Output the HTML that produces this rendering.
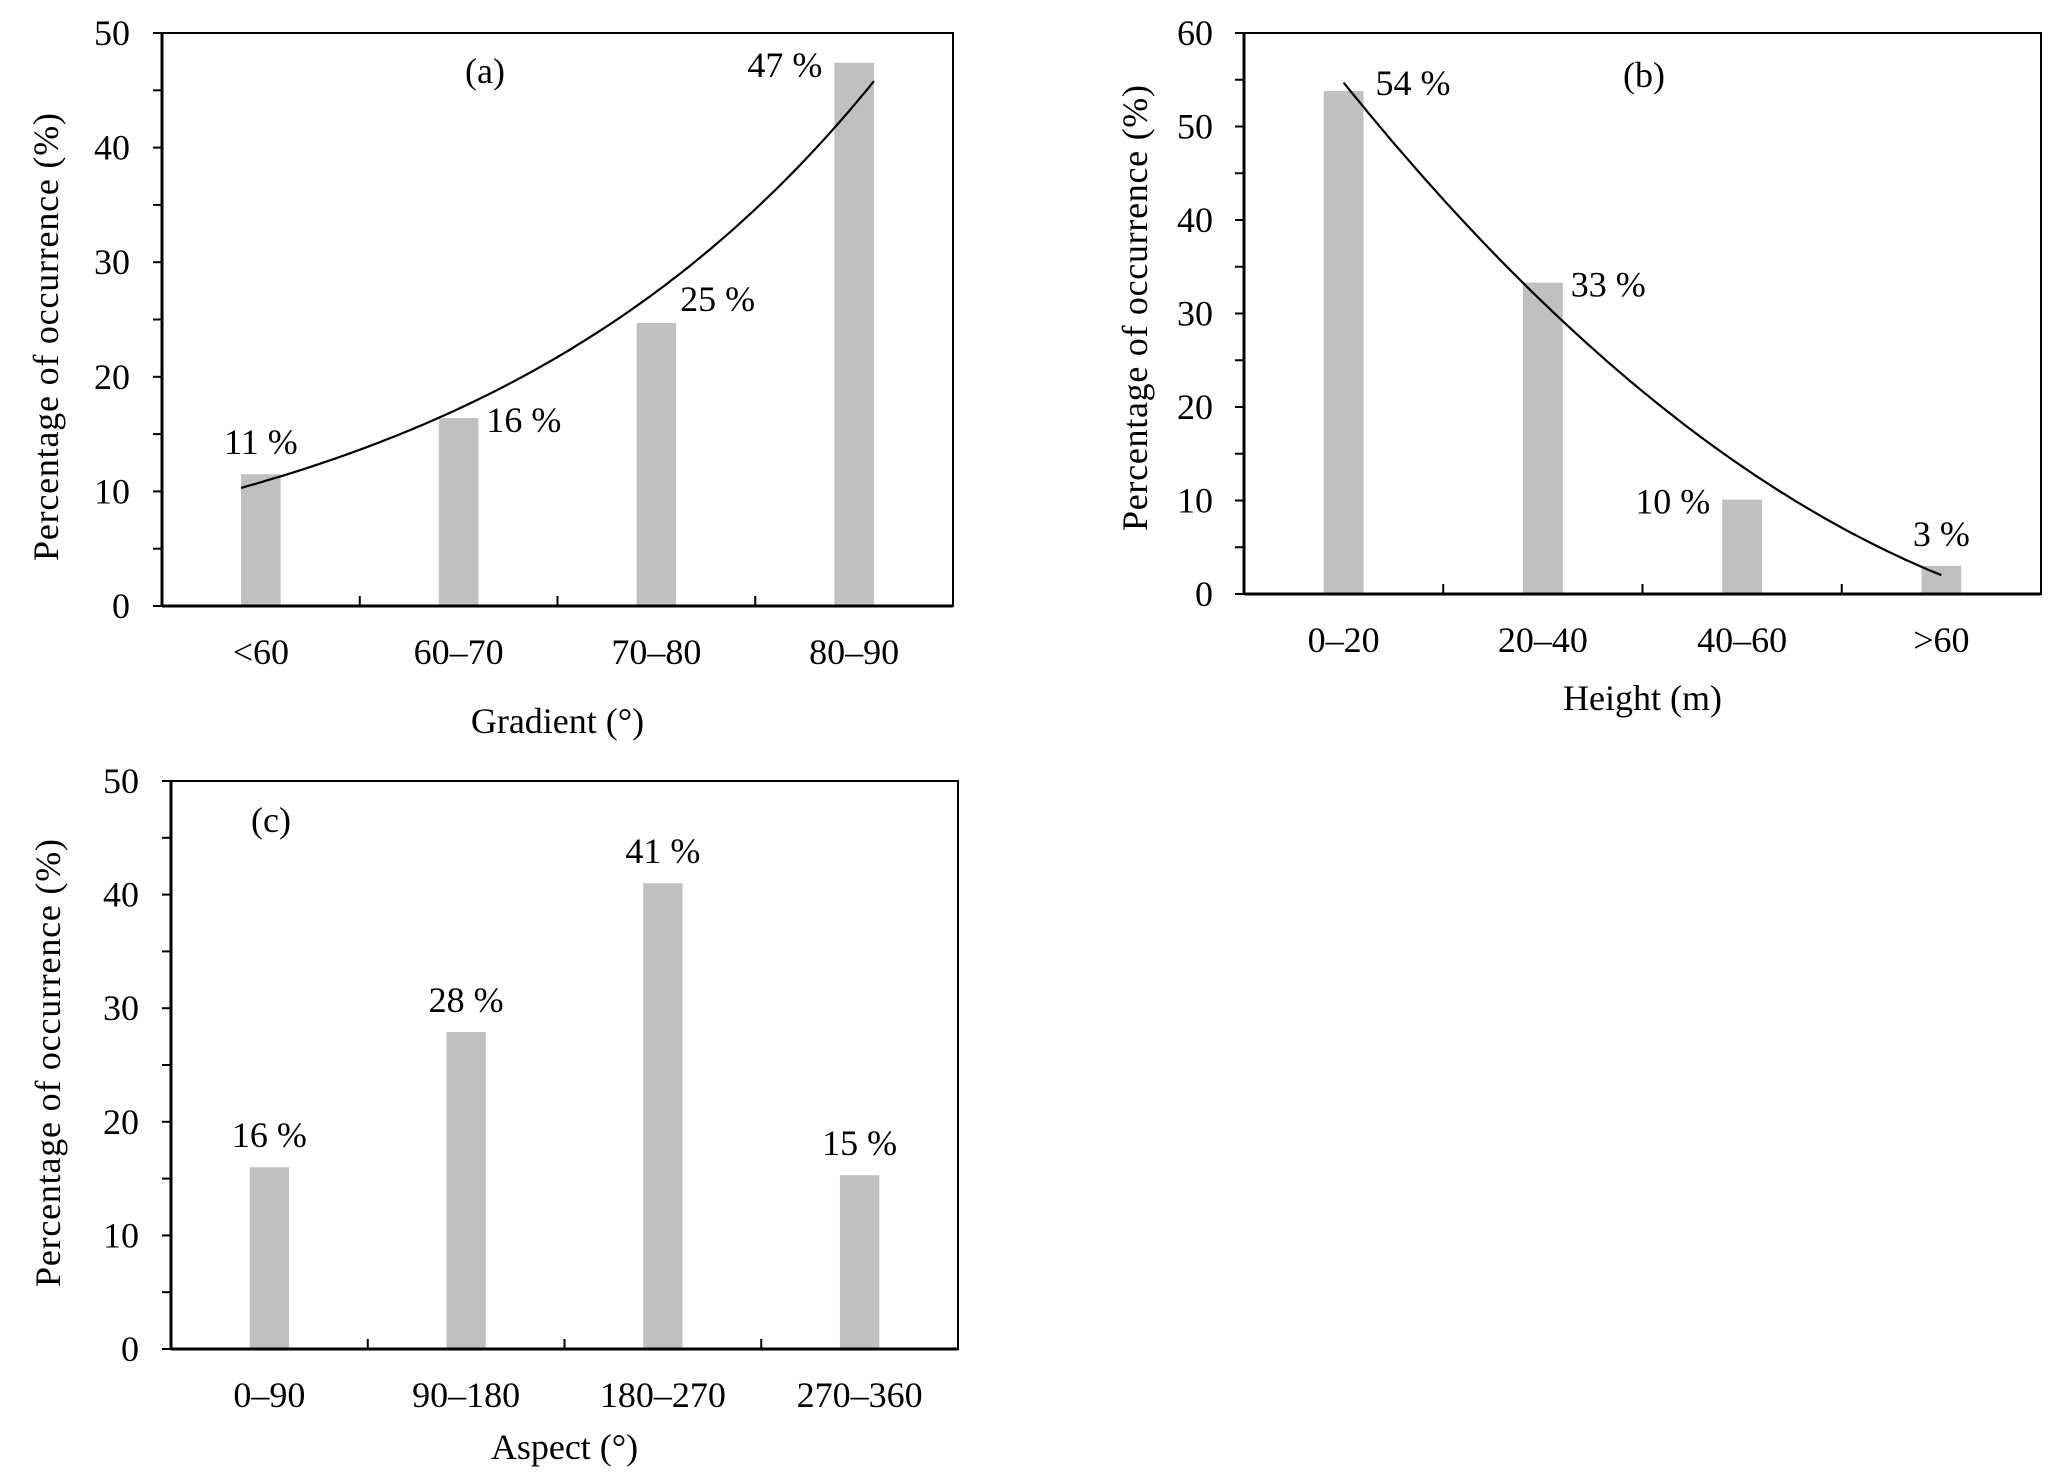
<!DOCTYPE html>
<html><head><meta charset="utf-8"><style>
html,body{margin:0;padding:0;background:#fff;}
svg{display:block;}
svg text{font-family:"Liberation Serif","Times New Roman",serif;}
</style></head><body>
<svg id="fig" width="2067" height="1476" viewBox="0 0 2067 1476" xmlns="http://www.w3.org/2000/svg" font-family="Liberation Serif, Times New Roman, serif"></svg>
<script>
const catsA = ["<60","60–70","70–80","80–90"];
const valsA = [11.5,16.4,24.7,47.4];
const lblA = ["11 %","16 %","25 %","47 %"];
const posA = ["above","right","rightUp","left"];
const ticksA = [0,10,20,30,40,50];
const fitA = [10.8,0.466]; // a*exp(b*t)

const catsB = ["0–20","20–40","40–60",">60"];
const valsB = [53.8,33.3,10.1,3.0];
const lblB = ["54 %","33 %","10 %","3 %"];
const posB = ["rightTop","right","left","above"];
const ticksB = [0,10,20,30,40,50,60];
const fitB = [2.97,-26.47,54.7]; // a t^2 + b t + c

const catsC = ["0–90","90–180","180–270","270–360"];
const valsC = [16.0,27.9,41.0,15.3];
const lblC = ["16 %","28 %","41 %","15 %"];
const posC = ["above","above","above","above"];
const ticksC = [0,10,20,30,40,50];

const NS="http://www.w3.org/2000/svg";
const svg=document.getElementById('fig');
const FF="Liberation Serif, Times New Roman, serif";
function mk(tag,attrs,parent){const e=document.createElementNS(NS,tag);for(const k in attrs)e.setAttribute(k,attrs[k]);if(tag==='text')e.setAttribute('font-family',FF);(parent||svg).appendChild(e);return e;}

function panel(cfg){
  const g=mk('g',{});
  
  
  const {L,R,T,B,ymax}=cfg;
  const y=v=>B-(v/ymax)*(B-T);
  const cw=(R-L)/cfg.cats.length;
  const xc=i=>L+cw*(i+0.5);
  const bw=cw*0.2;
  cfg.vals.forEach((v,i)=>{
    const r=mk('rect',{x:xc(i)-bw/2,y:y(v),width:bw,height:B-y(v),fill:'#c0c0c0'},g);
    
    
  });
  const f=mk('rect',{x:L,y:T,width:R-L,height:B-T,fill:'none',stroke:'#000','stroke-width':2},g);
  
  
  mk('line',{x1:L,y1:B,x2:R,y2:B,stroke:'#000','stroke-width':3},g);
  mk('line',{x1:L,y1:T,x2:L,y2:B,stroke:'#000','stroke-width':3},g);
  const step=cfg.ticks[1]-cfg.ticks[0];
  for(let v=0; v<=ymax+0.001; v+=step/2){
    mk('line',{x1:L-9,y1:y(v),x2:L,y2:y(v),stroke:'#000','stroke-width':2},g);
  }
  cfg.ticks.forEach(t=>{
    const tx=mk('text',{x:cfg.tlx,y:y(t)+12,'font-size':36,'text-anchor':'end'},g);
    tx.textContent=t;
    
    
  });
  for(let i=1;i<cfg.cats.length;i++){
    mk('line',{x1:L+cw*i,y1:B-10,x2:L+cw*i,y2:B,stroke:'#000','stroke-width':2},g);
  }
  cfg.cats.forEach((c,i)=>{
    const tx=mk('text',{x:xc(i),y:B+58,'font-size':36,'text-anchor':'middle'},g);
    tx.textContent=c;
    
    
  });
  cfg.vals.forEach((v,i)=>{
    let x=xc(i),yy=y(v)-20,a='middle';
    const p=cfg.pos[i];
    if(p==='right'){x=xc(i)+bw/2+8;yy=y(v)+14;a='start';}
    if(p==='rightUp'){x=xc(i)+bw/2+4;yy=y(v)-12;a='start';}
    if(p==='left'){x=xc(i)-bw/2-12;yy=y(v)+14;a='end';}
    if(p==='rightTop'){x=xc(i)+bw/2+12;yy=y(v)+4;a='start';}
    const tx=mk('text',{x:x,y:yy,'font-size':36,'text-anchor':a},g);
    tx.textContent=cfg.lbl[i];
    
    
  });
  if(cfg.fit){
    let d='';
    for(let k=0;k<=100;k++){
      const t=cfg.t0+(cfg.t1-cfg.t0)*k/100;
      const v=cfg.fit(t);
      d+=(k?'L':'M')+(xc(0)+t*cw).toFixed(1)+','+y(v).toFixed(1);
    }
    const p=mk('path',{d:d,fill:'none',stroke:'#000','stroke-width':2.2},g);
    
    
  }
  const pt=mk('text',{x:cfg.tag[0],y:cfg.tag[1],'font-size':36,'text-anchor':'middle'},g);
  pt.textContent=cfg.tagText;
  
  
  const xt=mk('text',{x:(L+R)/2,y:cfg.xty,'font-size':36,'text-anchor':'middle'},g);
  xt.textContent=cfg.xtitle;
  
  
  const yt=mk('text',{x:0,y:0,'font-size':36,'text-anchor':'middle',textLength:cfg.ylen,lengthAdjust:'spacing',transform:`translate(${cfg.ytx},${cfg.ytc}) rotate(-90)`},g);
  yt.textContent='Percentage of occurrence  (%)';
  
  
}

panel({id:'panel-a-gradient',L:162,R:953,T:33,B:606,ymax:50,cats:catsA,vals:valsA,lbl:lblA,pos:posA,ticks:ticksA,
  tlx:130,fit:t=>fitA[0]*Math.exp(fitA[1]*t),t0:-0.1,t1:3.1,tag:[485,83],tagText:'(a)',xtitle:'Gradient (°)',xty:733,ytx:58,ytc:337,ylen:448});
panel({id:'panel-b-height',L:1244,R:2041,T:33,B:594,ymax:60,cats:catsB,vals:valsB,lbl:lblB,pos:posB,ticks:ticksB,
  tlx:1213,fit:t=>fitB[0]*t*t+fitB[1]*t+fitB[2],t0:0,t1:3,tag:[1644,87],tagText:'(b)',xtitle:'Height  (m)',xty:710,ytx:1147,ytc:308,ylen:446});
panel({id:'panel-c-aspect',L:171,R:958,T:781,B:1349,ymax:50,cats:catsC,vals:valsC,lbl:lblC,pos:posC,ticks:ticksC,
  tlx:139,fit:null,tag:[271,832],tagText:'(c)',xtitle:'Aspect (°)',xty:1459,ytx:60,ytc:1063,ylen:448});
</script>
</body></html>
